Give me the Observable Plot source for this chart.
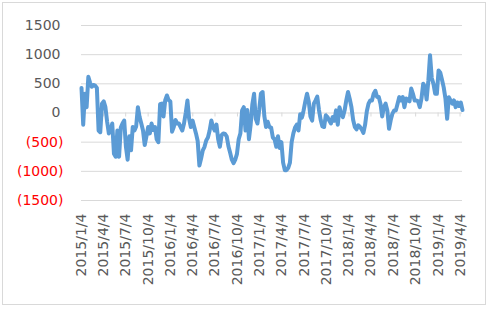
<!DOCTYPE html>
<html><head><meta charset="utf-8">
<script src="https://cdn.jsdelivr.net/npm/d3@7"></script>
<script src="https://cdn.jsdelivr.net/npm/@observablehq/plot@0.6"></script>
<style>
html,body{margin:0;padding:0;background:#fff;}
#wrap{position:relative;width:489px;height:309px;}
#border{position:absolute;left:2px;top:2px;width:484px;height:303px;border:1px solid #d9d9d9;box-sizing:border-box;pointer-events:none;}
#chart{position:absolute;left:0;top:0;}
</style></head><body>
<div id="wrap"><div id="chart"></div><div id="border"></div></div>
<script>
// weekly series starting on this date
const startDate = "2015-01-04";
const values = [
 430,-200,330,100,620,520,450,480,470,430,
 -300,-330,160,200,100,-150,-350,-290,-180,-700,
 -750,-300,-750,-250,-180,-130,-580,-800,-400,-640,
 -240,-300,-230,100,-70,-180,-300,-550,-400,-240,
 -350,-180,-290,-240,-450,-500,150,160,-60,220,
 300,220,200,-320,-240,-120,-180,-180,-240,-300,
 -180,0,215,-100,-240,-130,-240,-350,-480,-900,
 -780,-640,-580,-470,-420,-300,-130,-240,-300,-200,
 -450,-580,-380,-350,-360,-400,-570,-680,-800,-860,
 -800,-700,-450,-350,45,100,-300,50,-450,-200,
 150,330,-100,-180,50,330,360,-50,-240,-150,
 -240,-250,-420,-450,-580,-400,-600,-500,-850,-980,
 -980,-940,-850,-500,-350,-250,-200,-300,-20,-80,
 45,200,330,200,-60,-130,160,216,280,50,
 -120,-230,-240,-40,-70,-130,-180,-70,-130,45,
 -200,100,-10,-70,45,220,360,240,100,-120,
 -240,-280,-210,-240,-280,-340,-200,30,160,216,
 216,330,380,273,273,160,-60,100,160,45,
 -270,-120,-10,45,45,160,273,216,273,100,
 250,216,200,420,330,216,216,200,100,250,
 500,450,230,550,990,600,500,330,330,730,
 690,570,440,250,-100,270,216,160,216,100,
 180,120,180,50
];
const tickLabels = ["2015/1/4","2015/4/4","2015/7/4","2015/10/4","2016/1/4","2016/4/4","2016/7/4","2016/10/4","2017/1/4","2017/4/4","2017/7/4","2017/10/4","2018/1/4","2018/4/4","2018/7/4","2018/10/4","2019/1/4","2019/4/4"];
const yTicksPos = [0, 500, 1000, 1500];
const yTicksNeg = [-500, -1000, -1500];

const start = new Date(startDate + "T00:00:00Z");
const data = values.map((v, i) => ({date: d3.utcDay.offset(start, i * 7), value: v}));
const tickDates = tickLabels.map(s => { const [y, m, d] = s.split("/").map(Number); return new Date(Date.UTC(y, m - 1, d)); });
const fmt = d3.utcFormat("%Y/%-m/%-d");

const chart = Plot.plot({
  width: 489, height: 309,
  marginLeft: 81, marginRight: 27, marginTop: 25, marginBottom: 109,
  style: {fontFamily: "DejaVu Sans", background: "transparent", overflow: "visible"},
  x: {type: "utc", domain: [start, data[data.length - 1].date], label: null},
  y: {domain: [-1500, 1500], label: null},
  marks: [
    Plot.gridY([...yTicksNeg, ...yTicksPos], {stroke: "#d9d9d9", strokeOpacity: 1}),
    Plot.ruleX(tickDates, {x: d => d, y1: 0, y2: 0, insetBottom: -4, stroke: "#d9d9d9"}),
    Plot.line(data, {x: "date", y: "value", stroke: "#5B9BD5", strokeWidth: 4, strokeLinejoin: "round", strokeLinecap: "round"}),
    Plot.axisY(yTicksPos, {tickSize: 0, tickPadding: 21, fontSize: 14, fill: "#595959", label: null, tickFormat: d => String(d)}),
    Plot.axisY(yTicksNeg, {tickSize: 0, tickPadding: 18, fontSize: 14, fill: "#ff0000", label: null, tickFormat: d => `(${-d})`}),
    Plot.axisX(tickDates, {tickSize: 0, tickPadding: 13, tickRotate: -90, fontSize: 14, fill: "#595959", label: null, tickFormat: d => fmt(d)})
  ]
});
document.getElementById("chart").appendChild(chart);
</script>
</body></html>
